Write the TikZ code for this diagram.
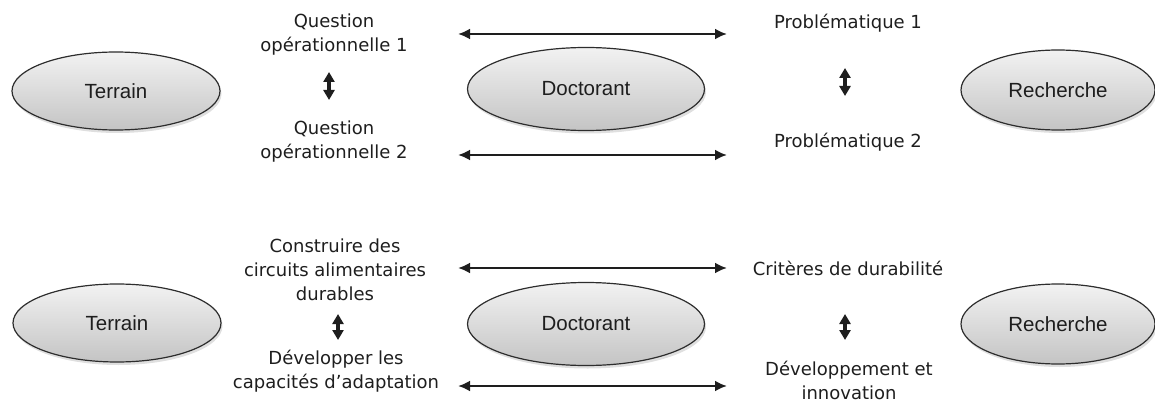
\documentclass[tikz,border=0pt]{standalone}
\usepackage{fontspec}
\setmainfont{DejaVu Sans}
\newfontfamily\ellfont{Liberation Sans}
\usetikzlibrary{shapes.geometric,arrows.meta,shadows}
\definecolor{ellline}{RGB}{45,45,45}
\definecolor{elltop}{RGB}{242,242,242}
\definecolor{ellbot}{RGB}{196,196,196}
\definecolor{ink}{RGB}{30,30,30}
\begin{document}
\begin{tikzpicture}[x=1pt,y=-1pt,
  ell/.style={ellipse, draw=ellline, line width=1.2pt, top color=elltop, bottom color=ellbot,
    drop shadow={opacity=0.25, shadow xshift=1.5pt, shadow yshift=-3pt},
    inner sep=0pt, text=ink, font=\ellfont\fontsize{20.5}{24}\selectfont},
  lbl/.style={align=center, anchor=north, inner sep=0pt, text=ink,
    font=\fontsize{18}{24}\selectfont},
  harr/.style={{Latex[length=12pt,width=11pt]}-{Latex[length=12pt,width=11pt]}, line width=2.6pt, draw=ink},
  varr/.style={{Triangle[length=10pt,width=11pt]}-{Triangle[length=10pt,width=11pt]}, line width=3.5pt, draw=ink}]
\useasboundingbox (0,0) rectangle (1155,406);

% ---------- top diagram ----------
\node[ell, minimum width=208pt, minimum height=78pt] (t1) at (116,91) {Terrain};
\node[ell, minimum width=237pt, minimum height=83pt] (d1) at (586,89) {Doctorant};
\node[ell, minimum width=194pt, minimum height=80pt] (r1) at (1058,90) {Recherche};

\node[lbl] (q1) at (334,10.2) {\strut Question\\opérationnelle 1};
\node[lbl] (q2) at (334,117.2) {\strut Question\\opérationnelle 2};
\node[lbl] (p1) at (848,11.2) {\strut Problématique 1};
\node[lbl] (p2) at (848,130.2) {\strut Problématique 2};

\coordinate (a1l) at (458,34);  \coordinate (a1r) at (727,34);
\coordinate (a2l) at (458,155); \coordinate (a2r) at (727,155);
\draw[harr] (a1l) -- (a1r);
\draw[harr] (a2l) -- (a2r);

\coordinate (v1t) at (329,72);  \coordinate (v1b) at (329,100);
\coordinate (v2t) at (845,68);  \coordinate (v2b) at (845,96);
\draw[varr] (v1t) -- (v1b);
\draw[varr] (v2t) -- (v2b);

% ---------- bottom diagram ----------
\node[ell, minimum width=208pt, minimum height=78pt] (t2) at (117,323) {Terrain};
\node[ell, minimum width=237pt, minimum height=83pt] (d2) at (586,324) {Doctorant};
\node[ell, minimum width=194pt, minimum height=80pt] (r2) at (1058,324) {Recherche};

\node[lbl] (c1) at (335,235.2) {\strut Construire des\\circuits alimentaires\\durables};
\node[lbl] (c2) at (336,347.2) {\strut Développer les\\capacités d’adaptation};
\node[lbl] (k1) at (848,258.2) {\strut Critères de durabilité};
\node[lbl] (k2) at (849,358) {\strut Développement et\\innovation};

\coordinate (a3l) at (458,268); \coordinate (a3r) at (727,268);
\coordinate (a4l) at (458,386); \coordinate (a4r) at (727,386);
\draw[harr] (a3l) -- (a3r);
\draw[harr] (a4l) -- (a4r);

\coordinate (v3t) at (338,314); \coordinate (v3b) at (338,340);
\coordinate (v4t) at (845,314); \coordinate (v4b) at (845,340);
\draw[varr] (v3t) -- (v3b);
\draw[varr] (v4t) -- (v4b);
\end{tikzpicture}
\end{document}
